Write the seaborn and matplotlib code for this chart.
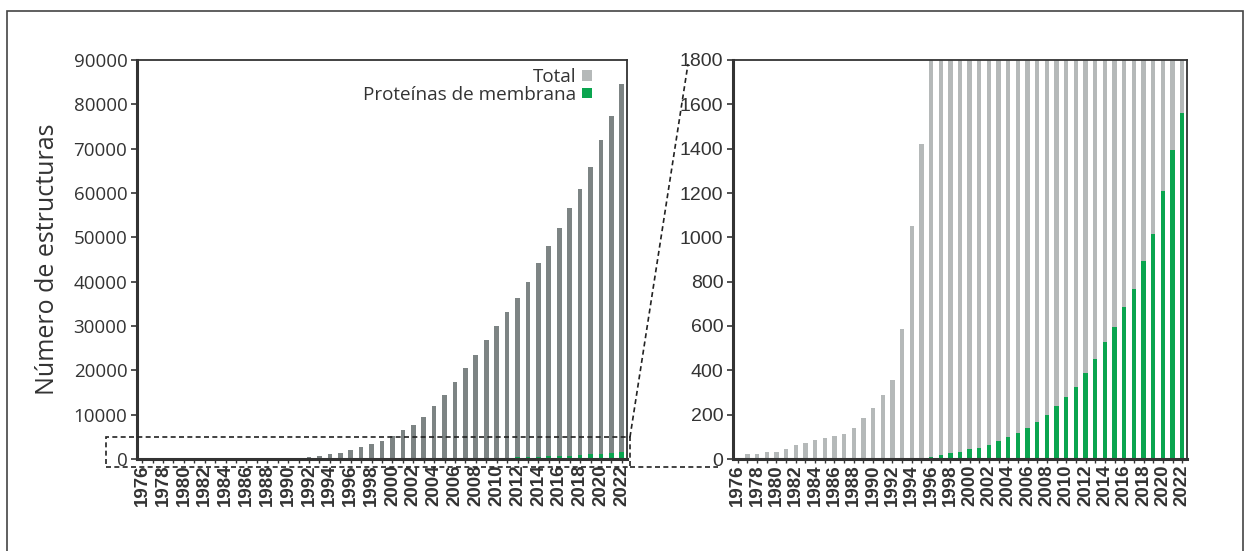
import numpy as np
import pandas as pd
import matplotlib
matplotlib.use("Agg")
import matplotlib.pyplot as plt
from matplotlib.patches import Rectangle, Patch
from matplotlib.lines import Line2D
import seaborn as sns

# Yearly number of deposited structures (1976-2022)
years = list(range(1976, 2023))
total = [
    0, 22, 24, 32, 32, 45, 63, 74, 84, 93,
    104, 114, 138, 186, 232, 290, 355, 585, 1050, 1420,
    2100, 2600, 3400, 4100, 5300, 6500, 7650, 9400, 11850, 14350,
    17300, 20500, 23500, 26800, 30000, 33200, 36400, 40000, 44300, 48100,
    52100, 56700, 61000, 65900, 72000, 77300, 84600,
]
membrane = [
    0, 0, 0, 0, 0, 0, 0, 0, 0, 0,
    0, 0, 0, 0, 0, 1, 1, 2, 3, 5,
    9, 16, 25, 32, 45, 50, 64, 81, 97, 116,
    139, 168, 199, 237, 280, 326, 388, 449, 528, 596,
    686, 768, 893, 1016, 1209, 1394, 1562,
]
year_labels = [str(y) if (y - years[0]) % 2 == 0 else "" for y in years]

df = pd.DataFrame({"year": [str(y) for y in years], "total": total, "membrane": membrane})

sns.set_theme(style="white")
plt.rcParams["font.family"] = ["Open Sans", "DejaVu Sans"]

TXT = "#333333"
GREEN = "#0aa54f"
DARK_GREY = "#7d8484"
LIGHT_GREY = "#b5b9b9"

W, H = 1250, 551
fig = plt.figure(figsize=(W / 100, H / 100), dpi=100)
fig.patch.set_facecolor("white")


def px_axes(x0, y0, x1, y1):
    return fig.add_axes([x0 / W, 1 - y1 / H, (x1 - x0) / W, (y1 - y0) / H])


ax1 = px_axes(137, 60, 627, 459)
ax2 = px_axes(733, 60, 1187, 459)

# Left: full scale
sns.barplot(data=df, x="year", y="total", color=DARK_GREY, width=0.45,
            saturation=1, ax=ax1, edgecolor="none")
sns.barplot(data=df, x="year", y="membrane", color=GREEN, width=0.45,
            saturation=1, ax=ax1, edgecolor="none")
ax1.set_ylim(0, 90000)
ax1.set_yticks(np.arange(0, 90001, 10000))

# Right: zoom on the first 1800 structures
sns.barplot(data=df, x="year", y="total", color=LIGHT_GREY, width=0.45,
            saturation=1, ax=ax2, edgecolor="none")
sns.barplot(data=df, x="year", y="membrane", color=GREEN, width=0.45,
            saturation=1, ax=ax2, edgecolor="none")
ax2.set_ylim(0, 1800)
ax2.set_yticks(np.arange(0, 1801, 200))

for ax in (ax1, ax2):
    ax.set_xlim(-0.5, len(years) - 0.5)
    ax.set_xticks(range(len(years)))
    ax.set_xticklabels(year_labels, rotation=90, fontsize=13.5, fontweight="bold",
                       family=["Liberation Sans"], color="#333333")
    ax.set_xlabel("")
    ax.set_ylabel("")
    ax.tick_params(axis="x", direction="out", length=3, width=1, color="#333333",
                   pad=1, bottom=True)
    ax.tick_params(axis="y", direction="out", length=4, width=1.2, color="#333333",
                   pad=3, left=True)
    for side, sp in ax.spines.items():
        sp.set_visible(True)
        sp.set_color("#333333")
        sp.set_linewidth(1.3)
    ax.spines["left"].set_linewidth(2.2)
    ax.spines["bottom"].set_linewidth(2.2)
    ax.grid(False)

for lab in ax1.get_yticklabels():
    lab.set_fontsize(13.5)
    lab.set_color(TXT)
    lab.set_family(["Open Sans"])
for lab in ax2.get_yticklabels():
    lab.set_fontsize(14)
    lab.set_color(TXT)
    lab.set_family(["Liberation Sans"])

ax1.set_ylabel("Número de estructuras", fontsize=18, color=TXT, labelpad=10)

handles = [Patch(facecolor=LIGHT_GREY, edgecolor="none"),
           Patch(facecolor=GREEN, edgecolor="none")]
leg = ax1.legend(handles, ["Total", "Proteínas de membrana"], loc="upper right",
                 frameon=False, markerfirst=False, fontsize=13.6, handlelength=0.5,
                 handleheight=0.5, handletextpad=0.3, labelspacing=-0.02,
                 borderaxespad=0.0, borderpad=0.0, bbox_to_anchor=(0.928, 0.98))
for t in leg.get_texts():
    t.set_color(TXT)

# Dashed zoom indicator linking the two panels
ftr = fig.transFigure
def fx(x):
    return x / W
def fy(y):
    return 1 - y / H

dash = dict(color="#222222", lw=1.2, linestyle=(0, (3, 2)), transform=ftr)
fig.add_artist(Rectangle((fx(106), fy(467)), fx(630) - fx(106), fy(437) - fy(467),
                         fill=False, edgecolor="#222222", lw=1.2,
                         linestyle=(0, (3, 2)), transform=ftr))
fig.add_artist(Line2D([fx(630), fx(688)], [fy(437), fy(64)], **dash))
fig.add_artist(Line2D([fx(630), fx(718)], [fy(467), fy(467)], **dash))

# Outer frame
fig.add_artist(Rectangle((fx(7), fy(560)), fx(1243) - fx(7), fy(11) - fy(560),
                         fill=False, edgecolor="#444444", lw=1.2, transform=ftr))

fig.savefig("out.png", dpi=100, facecolor="white")
